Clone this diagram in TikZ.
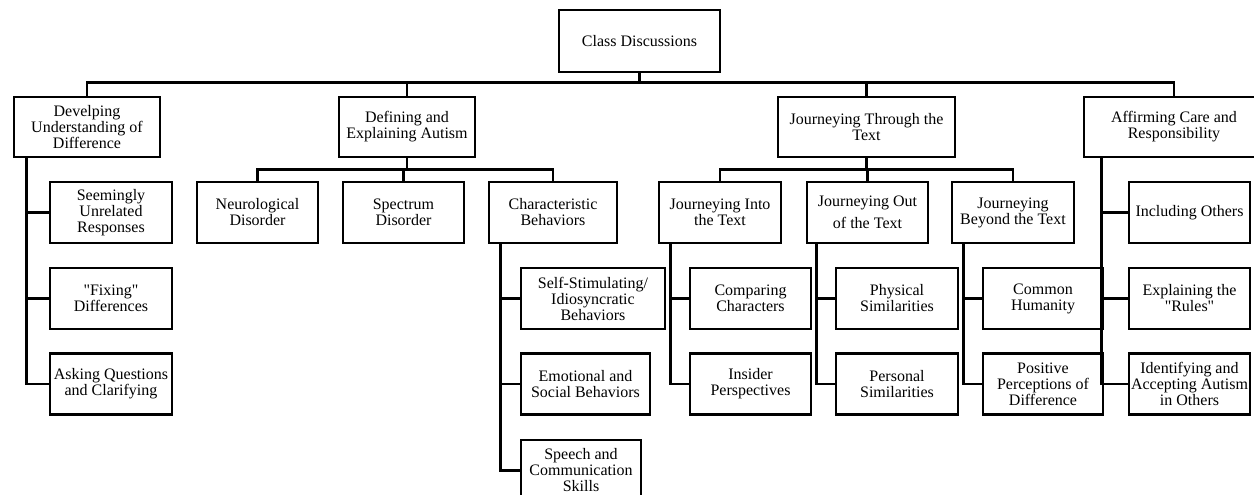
\documentclass[tikz,border=0pt]{standalone}
\usepackage{fontspec}
\setmainfont{Liberation Serif}[Ligatures=TeXOff]
\usetikzlibrary{positioning,calc}

\begin{document}
\begin{tikzpicture}[x=0.75pt,y=-0.75pt,font=\fontsize{12}{12}\selectfont,
  line width=2pt,
  box/.style={draw,line width=2pt,align=center,inner sep=1pt,
    minimum height=45.75pt},
  head/.style={box,minimum height=45pt},
  leaf/.style={box,minimum width=91pt}]
  \clip (0,0) rectangle (1254,495);
  % top of the tree
  \node[box,minimum width=120.75pt,minimum height=46.5pt] (cd) at (639.5,41)
    {Class Discussions};
  \node[head,minimum width=109.5pt] (dev) at (87,127)
    {Develping\\Understanding of\\Difference};
  \node[head,minimum width=102pt] (def) at (407,127)
    {Defining and\\Explaining Autism};
  \node[head,minimum width=132.75pt] (thr) at (866.5,127)
    {Journeying Through the\\Text};
  \node[head,minimum width=135pt] (aff) at (1174,127)
    {Affirming Care and\\Responsibility};
  % second row
  \node[leaf,minimum width=90.75pt] (neu) at (257.5,212.5) {Neurological\\Disorder};
  \node[leaf,minimum width=90.75pt] (spe) at (403.5,212.5) {Spectrum\\Disorder};
  \node[leaf,minimum width=96pt] (chr) at (553,212.5) {Characteristic\\Behaviors};
  \node[leaf,minimum width=91.5pt] (into) at (720,212.5) {Journeying Into\\the Text};
  \node[leaf,minimum width=90.75pt] (out) at (867.5,212.5)
    {Journeying Out\\[4.5pt]of the Text};
  \node[leaf,minimum width=91.5pt] (bey) at (1013,212.5)
    {Journeying\\Beyond the Text};
  \node[leaf,minimum width=90.75pt] (inc) at (1189.5,212.5) {Including Others};
  \node[leaf,minimum width=91.5pt] (seem) at (111,212.5)
    {Seemingly\\Unrelated\\Responses};
  % lower rows
  \node[leaf,minimum width=91.5pt] (fix) at (111,298.5) {"Fixing"\\Differences};
  \node[leaf,minimum width=91.5pt] (ask) at (111,384)
    {Asking Questions\\and Clarifying};
  \node[leaf,minimum width=108pt] (self) at (593,298.5)
    {Self-Stimulating/\\Idiosyncratic\\Behaviors};
  \node[leaf,minimum width=96.75pt] (emo) at (585.5,384)
    {Emotional and\\Social Behaviors};
  \node[leaf,minimum width=90pt] (spc) at (581,470.5)
    {Speech and\\Communication\\Skills};
  \node[leaf,minimum width=90.75pt] (cmp) at (750.5,298.5) {Comparing\\Characters};
  \node[leaf,minimum width=90.75pt] (ins) at (750.5,384) {Insider\\Perspectives};
  \node[leaf,minimum width=91.5pt] (phy) at (897,298.5) {Physical\\Similarities};
  \node[leaf,minimum width=91.5pt] (per) at (897,384) {Personal\\Similarities};
  \node[leaf,minimum width=90pt] (com) at (1043,298.5) {Common\\Humanity};
  \node[leaf,minimum width=90pt] (pos) at (1043,384)
    {Positive\\Perceptions of\\Difference};
  \node[leaf,minimum width=90.75pt] (exp) at (1189.5,298.5)
    {Explaining the\\"Rules"};
  \node[leaf,minimum width=90.75pt] (idf) at (1189.5,384)
    {Identifying and\\Accepting Autism\\in Others};
  % buses
  \coordinate (bus) at (0,82.5);
  \coordinate (bus2) at (0,169.5);
  \draw (dev.north) -- (dev.north |- bus) -- (aff.north |- bus) -- (aff.north);
  \foreach \n in {cd.south,def.north,thr.north}
    \draw (\n) -- (\n |- bus);
  \draw (neu.north) -- (neu.north |- bus2) -- (chr.north |- bus2) -- (chr.north);
  \foreach \n in {def.south,spe.north}
    \draw (\n) -- (\n |- bus2);
  \draw (into.north) -- (into.north |- bus2) -- (bey.north |- bus2) -- (bey.north);
  \foreach \n in {thr.south,out.north}
    \draw (\n) -- (\n |- bus2);
  % side branches
  \foreach \c in {seem,fix,ask}
    \draw ([xshift=10.5pt]dev.south west) |- (\c.west);
  \foreach \c in {self,emo,spc}
    \draw ([xshift=9.75pt]chr.south west) |- (\c.west);
  \foreach \c in {cmp,ins}
    \draw ([xshift=9.75pt]into.south west) |- (\c.west);
  \foreach \c in {phy,per}
    \draw ([xshift=8.25pt]out.south west) |- (\c.west);
  \foreach \c in {com,pos}
    \draw ([xshift=9.75pt]bey.south west) |- (\c.west);
  \foreach \c in {inc,exp,idf}
    \draw ([xshift=14.25pt]aff.south west) |- (\c.west);
\end{tikzpicture}
\end{document}
